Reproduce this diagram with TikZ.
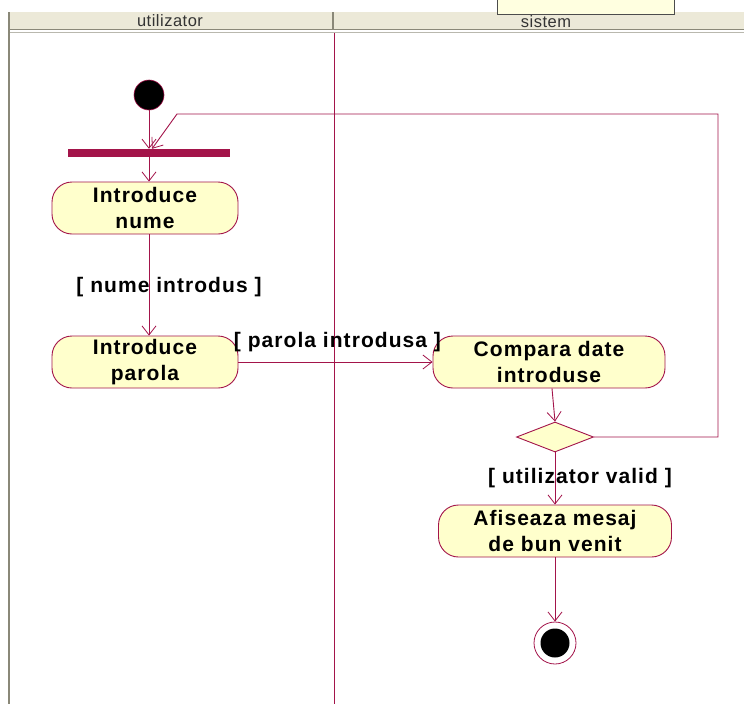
\documentclass[tikz,border=0pt]{standalone}
\usepackage{fontspec}
\setmainfont{Liberation Sans}
\usetikzlibrary{arrows.meta,shapes.geometric}
\definecolor{umlred}{HTML}{A3144A}
\definecolor{actfill}{HTML}{FFFFCC}
\definecolor{hdrfill}{HTML}{ECE9D8}
\definecolor{hdrline}{HTML}{8A8878}
\newcommand{\actfont}{\fontsize{21}{25.5}\selectfont\bfseries\addfontfeature{LetterSpace=5}}
\tikzset{
  flow/.style={draw=umlred, line width=0.9pt, -{Straight Barb[length=9pt,width=14pt,line width=0.8pt]}},
  activity/.style={draw=umlred, fill=actfill, line width=0.9pt, rounded corners=20pt,
    minimum height=52pt, align=center, font=\actfont, inner sep=0pt},
  guard/.style={font=\actfont, inner sep=0pt},
  decision/.style={diamond, draw=umlred, fill=actfill, line width=0.9pt, minimum width=77pt,
    minimum height=30pt, inner sep=0pt, aspect=2.5},
  lanehead/.style={font=\fontsize{16.5}{18}\selectfont\addfontfeature{LetterSpace=3}, text=black!80, inner sep=0pt}
}
\begin{document}
\begin{tikzpicture}[x=1pt,y=-1pt]
\useasboundingbox (0,0) rectangle (744,704);
\fill[white] (0,0) rectangle (744,704);
% swimlane header
\fill[hdrfill] (9,12) rectangle (744,29);
\draw[hdrline, line width=1.2pt] (9,29.5) -- (744,29.5);
\draw[hdrline!60, line width=1pt] (9,32) -- (744,32);
\draw[hdrline, line width=1.2pt] (333,12) -- (333,29);
\draw[hdrline, line width=1.5pt] (9,12) -- (9,704);
% box partly hidden above the header
\draw[black!70, fill=actfill!60, line width=1pt] (497,-2) -- (497,14) -- (674,14) -- (674,-2);
\node[lanehead] (hutil) at (170,21) {utilizator};
\node[lanehead] (hsist) at (546,22) {sistem};
% lane divider
\draw[umlred, line width=0.9pt] (334,33) -- (334,704);

% nodes
\node[circle, fill=black, draw=umlred, line width=0.6pt, minimum size=30pt, inner sep=0pt] (start) at (149,95) {};
\node[fill=umlred, minimum width=162pt, minimum height=8pt, inner sep=0pt] (fork) at (149,153) {};
\node[activity, minimum width=186pt] (nume) at (145,208) {Introduce\\nume};
\node[activity, minimum width=186pt] (parola) at (145,362) {Introduce\\parola};
\node[activity, minimum width=232pt] (compara) at (549,362) {Compara date\\introduse};
\node[decision] (dec) at (555,437) {};
\node[activity, minimum width=233pt] (afis) at (555,531) {Afiseaza mesaj\\de bun venit};
\node[circle, draw=umlred, fill=white, line width=0.8pt, minimum size=42pt, inner sep=0pt] (final) at (555,643) {};
\node[circle, fill=black, minimum size=29pt, inner sep=0pt] (finalin) at (final.center) {};
\coordinate (colL) at (149,0);
\coordinate (colJ) at (152,0);
\coordinate (colD) at (552,0);
\coordinate (loopA) at (718,437);
\coordinate (loopB) at (718,114);
\coordinate (loopC) at (177,114);

% transitions
\draw[flow] (start) -- (fork.north);
\draw[flow] (fork.south) -- (nume.north -| colL);
\draw[flow] (nume.south -| colL) -- (parola.north -| colL)
  node[guard, pos=0.52, xshift=20pt] (g1) {[ nume introdus ]};
\draw[flow] (parola.east) -- (compara.west)
  node[guard, pos=0.51, yshift=20pt] (g2) {[ parola introdusa ]};
\draw[flow] (compara.south -| colD) -- (dec.north);
\draw[flow] (dec.south) -- (afis.north)
  node[guard, pos=0.5, xshift=25pt] (g3) {[ utilizator valid ]};
\draw[flow] (afis.south) -- (final.north);
\draw[flow] (dec.east) -- (loopA) -- (loopB) -- (loopC) -- (fork.north -| colJ);
\end{tikzpicture}
\end{document}
